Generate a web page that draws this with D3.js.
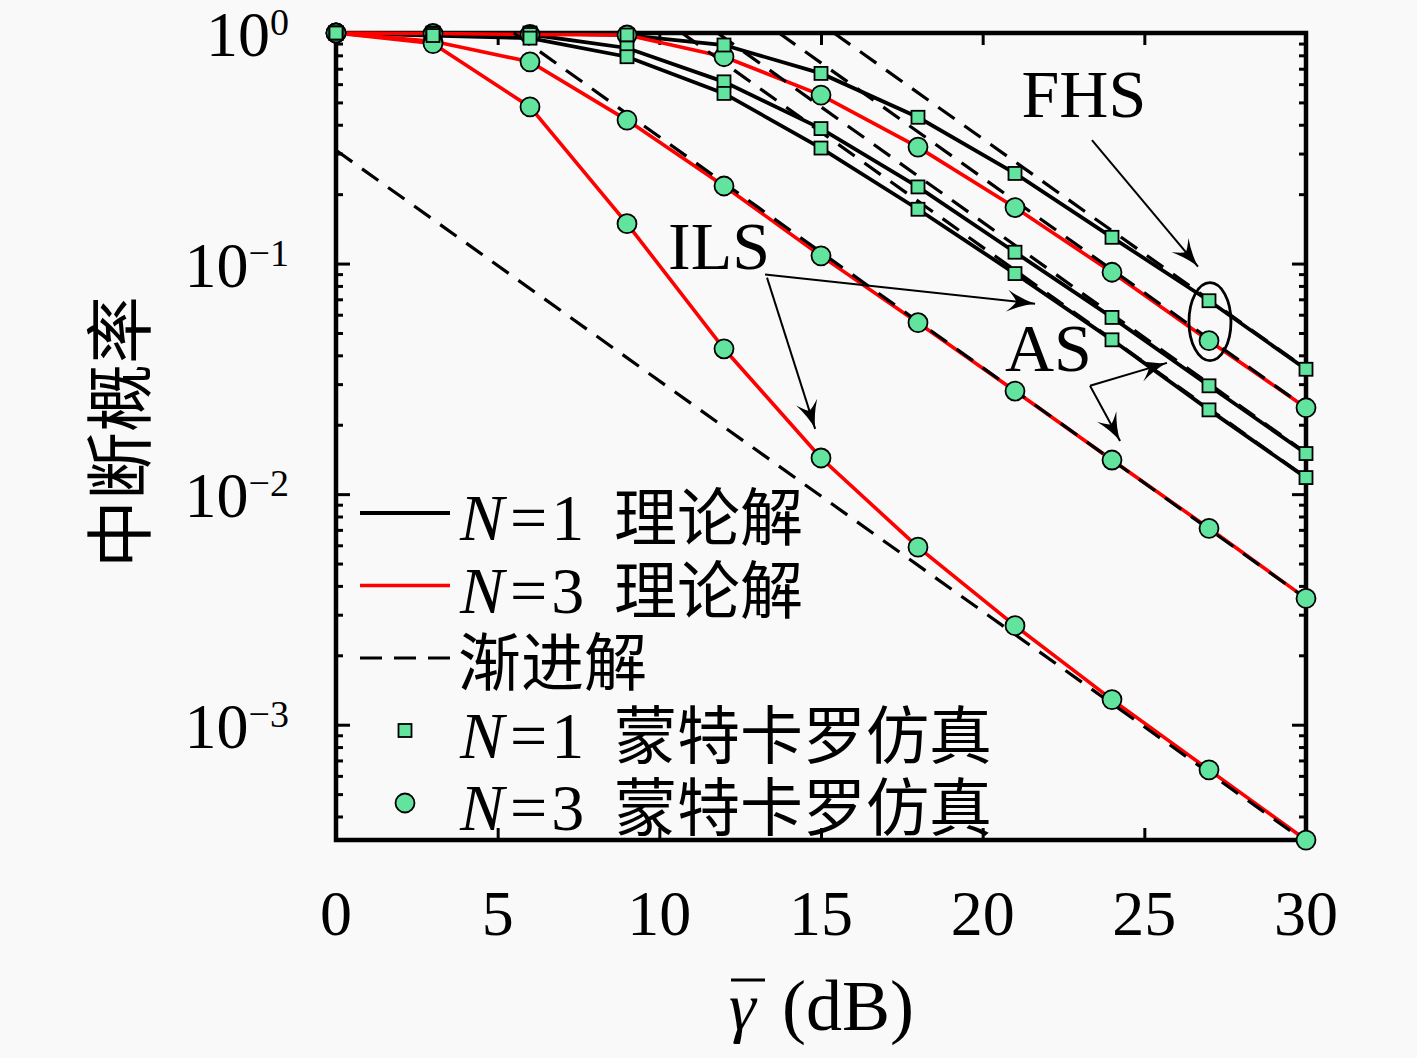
<!DOCTYPE html>
<html>
<head>
<meta charset="utf-8">
<script src="https://cdn.jsdelivr.net/npm/d3@7"></script>
<style>
    html, body { margin: 0; padding: 0; background: #f9f9f9; }
    svg { display: block; }
</style>
</head>
<body>
<svg id="chart" width="1417" height="1058"></svg>
<script>
// SNR grid (dB) and outage probabilities
const snrDb = [0, 3, 6, 9, 12, 15, 18, 21, 24, 27, 30];

const fhsN1 = [1.0, 1.0, 1.0, 0.98, 0.887, 0.668, 0.431, 0.246, 0.130, 0.0690, 0.0348];
const asN1  = [1.0, 0.995, 0.985, 0.861, 0.614, 0.385, 0.215, 0.112, 0.0584, 0.0295, 0.0150];
const ilsN1 = [1.0, 0.975, 0.95, 0.789, 0.547, 0.317, 0.172, 0.0905, 0.0467, 0.0232, 0.0118];

const fhsN3 = [1.0, 0.995, 0.985, 0.98, 0.789, 0.538, 0.320, 0.175, 0.0917, 0.0463, 0.0237];
const asN3  = [1.0, 0.92, 0.750, 0.419, 0.217, 0.108, 0.0554, 0.0280, 0.01406, 0.00711, 0.00353];
const ilsN3 = [1.0, 0.90, 0.478, 0.149, 0.0427, 0.01435, 0.00589, 0.00269, 0.001285, 0.000637, 0.000316];

// asymptotes: straight lines from (fromDb, fromP) to (toDb, toP)
const asymFromDb = [15.4, 11.8, 10.7, 13.7, 5.5, 0];
const asymFromP  = [1, 1, 1, 1, 1, 0.31];
const asymToDb   = [30, 30, 30, 30, 30, 30];
const asymToP    = [0.035, 0.0151, 0.0118, 0.0237, 0.00353, 0.00031];

const xTicks = [0, 5, 10, 15, 20, 25, 30];
const yDecades = [-3, -2, -1, 0];

const legendText = [
    ['N', '1', '理论解'],
    ['N', '3', '理论解'],
    ['', '', '渐进解'],
    ['N', '1', '蒙特卡罗仿真'],
    ['N', '3', '蒙特卡罗仿真'],
];

const serif = '"Liberation Serif", "DejaVu Serif", serif';
const cjk = '"Noto Sans CJK SC", sans-serif';
const markerFill = '#62e49e';
const red = '#ff0000';

const plot = { left: 336, top: 33, right: 1306, bottom: 840 };

const svg = d3.select('#chart');

const x = d3.scaleLinear().domain([0, 30]).range([plot.left, plot.right]);
const y = d3.scaleLog().domain([Math.pow(10, -3.5), 1]).range([plot.bottom, plot.top]);

// ---- axes (ticks pointing inward on all four sides)
const minorTicks = y.ticks().filter(v => {
    const l = Math.log10(v);
    return Math.abs(l - Math.round(l)) > 1e-6;
});
const majorTicks = yDecades.map(d => Math.pow(10, d));

function tickStyle(g, w) {
    g.select('.domain').remove();
    g.selectAll('line').attr('stroke', '#000').attr('stroke-width', w);
    g.selectAll('text').remove();
}

svg.append('g').attr('transform', `translate(0,${plot.bottom})`)
    .call(d3.axisBottom(x).tickValues(xTicks).tickSize(-12))
    .call(g => tickStyle(g, 3));
svg.append('g').attr('transform', `translate(0,${plot.top})`)
    .call(d3.axisTop(x).tickValues(xTicks).tickSize(-12))
    .call(g => tickStyle(g, 3));

[[d3.axisLeft, plot.left], [d3.axisRight, plot.right]].forEach(([axisFn, pos]) => {
    svg.append('g').attr('transform', `translate(${pos},0)`)
        .call(axisFn(y).tickValues(minorTicks).tickSize(-7))
        .call(g => tickStyle(g, 3));
    svg.append('g').attr('transform', `translate(${pos},0)`)
        .call(axisFn(y).tickValues(majorTicks).tickSize(-14))
        .call(g => tickStyle(g, 3));
});

svg.append('rect')
    .attr('x', plot.left).attr('y', plot.top)
    .attr('width', plot.right - plot.left).attr('height', plot.bottom - plot.top)
    .attr('fill', 'none').attr('stroke', '#000').attr('stroke-width', 4.5);

// tick labels
svg.append('g').selectAll('text')
    .data(xTicks).enter()
    .append('text')
    .attr('x', d => x(d)).attr('y', 935)
    .attr('text-anchor', 'middle')
    .style('font-family', serif).style('font-size', '64px')
    .text(d => d);

const yLabels = svg.append('g').selectAll('text')
    .data(yDecades).enter()
    .append('text')
    .attr('x', 289).attr('y', d => y(Math.pow(10, d)) + 23)
    .attr('text-anchor', 'end')
    .style('font-family', serif).style('font-size', '64px');
yLabels.append('tspan').text('10');
yLabels.append('tspan').attr('dy', -21).style('font-size', '38px')
    .text(d => d === 0 ? '0' : '\u2212' + (-d));

// axis titles
svg.append('text')
    .attr('transform', 'translate(115,432) rotate(-90)')
    .attr('text-anchor', 'middle').attr('dominant-baseline', 'central')
    .style('font-family', cjk).style('font-size', '68px')
    .text('中断概率');

const xTitle = svg.append('g');
xTitle.append('text')
    .attr('x', 729).attr('y', 1030)
    .style('font-family', serif).style('font-size', '68px').style('font-style', 'italic')
    .text('\u03b3');
xTitle.append('line')
    .attr('x1', 731).attr('x2', 765).attr('y1', 980).attr('y2', 980)
    .attr('stroke', '#000').attr('stroke-width', 3);
xTitle.append('text')
    .attr('x', 782).attr('y', 1030)
    .style('font-family', serif).style('font-size', '72px')
    .text('(dB)');

// ---- curves
const line = d3.line()
    .x(d => x(d[0]))
    .y(d => y(d[1]));

function pairs(values) {
    return snrDb.map((s, i) => [s, values[i]]);
}

const n1Series = [fhsN1, asN1, ilsN1];
const n3Series = [fhsN3, asN3, ilsN3];

svg.append('g').selectAll('path')
    .data(n1Series).enter()
    .append('path')
    .attr('d', d => line(pairs(d)))
    .attr('fill', 'none').attr('stroke', '#000').attr('stroke-width', 3.8);

svg.append('g').selectAll('path')
    .data(n3Series).enter()
    .append('path')
    .attr('d', d => line(pairs(d)))
    .attr('fill', 'none').attr('stroke', red).attr('stroke-width', 3.6);

const asymData = asymFromDb.map((f, i) => [[f, asymFromP[i]], [asymToDb[i], asymToP[i]]]);
svg.append('g').selectAll('path')
    .data(asymData).enter()
    .append('path')
    .attr('d', d => line(d))
    .attr('fill', 'none').attr('stroke', '#000').attr('stroke-width', 3.2)
    .attr('stroke-dasharray', '20,12');

// ---- markers
function drawSquares(g, pts, size) {
    g.selectAll(null).data(pts).enter()
        .append('rect')
        .attr('x', d => x(d[0]) - size / 2).attr('y', d => y(d[1]) - size / 2)
        .attr('width', size).attr('height', size)
        .attr('fill', markerFill).attr('stroke', '#000').attr('stroke-width', 1.8);
}
function drawCircles(g, pts, r) {
    g.selectAll(null).data(pts).enter()
        .append('circle')
        .attr('cx', d => x(d[0])).attr('cy', d => y(d[1])).attr('r', r)
        .attr('fill', markerFill).attr('stroke', '#000').attr('stroke-width', 1.8);
}

const markerLayer = svg.append('g');
n3Series.forEach(s => drawCircles(markerLayer, pairs(s), 9.5));
n1Series.forEach(s => drawSquares(markerLayer, pairs(s), 13));

// ---- legend
const legend = svg.append('g');
const rowY = i => 513 + i * 72.5;

legend.append('line').attr('x1', 360).attr('x2', 450).attr('y1', rowY(0)).attr('y2', rowY(0))
    .attr('stroke', '#000').attr('stroke-width', 3.8);
legend.append('line').attr('x1', 360).attr('x2', 450).attr('y1', rowY(1)).attr('y2', rowY(1))
    .attr('stroke', red).attr('stroke-width', 3.6);
legend.append('line').attr('x1', 360).attr('x2', 450).attr('y1', rowY(2)).attr('y2', rowY(2))
    .attr('stroke', '#000').attr('stroke-width', 3.2).attr('stroke-dasharray', '22,12');
legend.append('rect').attr('x', 405 - 6.5).attr('y', rowY(3) - 6.5).attr('width', 13).attr('height', 13)
    .attr('fill', markerFill).attr('stroke', '#000').attr('stroke-width', 1.8);
legend.append('circle').attr('cx', 405).attr('cy', rowY(4)).attr('r', 9.5)
    .attr('fill', markerFill).attr('stroke', '#000').attr('stroke-width', 1.8);

legendText.forEach((parts, i) => {
    const t = legend.append('text')
        .attr('x', 460).attr('y', rowY(i) + 27)
        .style('font-family', serif).style('font-size', '66px');
    if (parts[0]) {
        t.append('tspan').style('font-style', 'italic').text(parts[0]);
        t.append('tspan').attr('dx', 6).text('=');
        t.append('tspan').attr('dx', 4).text(parts[1]);
        t.append('tspan').attr('x', 614).style('font-family', cjk).style('font-size', '63px').text(parts[2]);
    } else {
        t.append('tspan').attr('x', 458).style('font-family', cjk).style('font-size', '63px').text(parts[2]);
    }
});

// ---- annotations (positioned in data units)
const defs = svg.append('defs');
defs.append('marker')
    .attr('id', 'stealth')
    .attr('markerUnits', 'userSpaceOnUse')
    .attr('viewBox', '-28 -13 30 26')
    .attr('markerWidth', 30).attr('markerHeight', 26)
    .attr('refX', 0).attr('refY', 0)
    .attr('orient', 'auto')
    .append('path')
    .attr('d', 'M0,0 Q-14,-3 -28,-11 Q-20,-3 -19,0 Q-20,3 -28,11 Q-14,3 0,0 Z')
    .attr('fill', '#000');

const arrows = [
    [[23.38, 0.343], [26.66, 0.097]],
    [[13.27, 0.0896], [21.62, 0.067]],
    [[13.33, 0.0869], [14.82, 0.0192]],
    [[23.32, 0.0295], [25.70, 0.0371]],
    [[23.32, 0.0295], [24.25, 0.0170]],
];
svg.append('g').selectAll('line')
    .data(arrows).enter()
    .append('line')
    .attr('x1', d => x(d[0][0])).attr('y1', d => y(d[0][1]))
    .attr('x2', d => x(d[1][0])).attr('y2', d => y(d[1][1]))
    .attr('stroke', '#000').attr('stroke-width', 2)
    .attr('marker-end', 'url(#stealth)');

svg.append('ellipse')
    .attr('cx', x(27.03)).attr('cy', y(0.056))
    .attr('rx', 21).attr('ry', 39)
    .attr('fill', 'none').attr('stroke', '#000').attr('stroke-width', 2.8);

const notes = [['FHS', 21.2, 0.431], ['ILS', 10.27, 0.0951], ['AS', 20.69, 0.0343]];
svg.append('g').selectAll('text')
    .data(notes).enter()
    .append('text')
    .attr('x', d => x(d[1])).attr('y', d => y(d[2]))
    .style('font-family', serif).style('font-size', '68px')
    .text(d => d[0]);
</script>
</body>
</html>
